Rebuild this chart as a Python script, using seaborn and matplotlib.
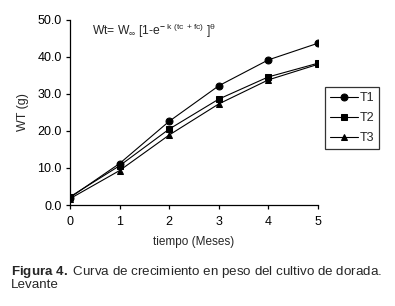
import pandas as pd
import matplotlib.pyplot as plt
import seaborn as sns

months = [0, 1, 2, 3, 4, 5]
t1 = [2.0, 11.2, 22.6, 32.2, 39.2, 43.7]
t2 = [2.2, 10.6, 20.5, 28.6, 34.6, 38.3]
t3 = [1.7, 9.3, 18.9, 27.3, 33.8, 38.0]
series_names = ["T1", "T2", "T3"]
y_ticks = [0, 10, 20, 30, 40, 50]


def main():
    df = pd.DataFrame({
        "mes": months * 3,
        "wt": t1 + t2 + t3,
        "trat": [n for n in series_names for _ in months],
    })

    sns.set_theme(style="ticks")
    plt.rcParams["font.family"] = ["Liberation Sans", "DejaVu Sans"]
    plt.rcParams["mathtext.fontset"] = "custom"
    plt.rcParams["mathtext.rm"] = "Liberation Sans"
    plt.rcParams["mathtext.it"] = "Liberation Sans"
    plt.rcParams["mathtext.bf"] = "Liberation Sans:bold"

    fig = plt.figure(figsize=(3.95, 3.06), dpi=100)
    ax = fig.add_axes([0.177, 0.33, 0.628, 0.605])

    sns.lineplot(data=df, x="mes", y="wt", hue="trat", style="trat",
                 palette=["black"] * 3, markers={"T1": "o", "T2": "s", "T3": "^"},
                 dashes=False, markersize=5, linewidth=0.8,
                 markeredgecolor="black", ax=ax)

    ax.set_xlim(0, 5)
    ax.set_ylim(0, 50)
    ax.set_xticks(months)
    ax.set_yticks(y_ticks)
    ax.set_yticklabels([f"{v:.1f}" for v in y_ticks])
    ax.tick_params(labelsize=9, length=3, width=0.9, pad=3, colors="black")
    ax.tick_params(axis="x", pad=5)
    for s in ["left", "bottom"]:
        ax.spines[s].set_linewidth(0.9)
        ax.spines[s].set_color("black")
    sns.despine(ax=ax)
    ax.set_xlabel("tiempo (Meses)", fontsize=8.5)
    ax.set_ylabel("WT (g)", fontsize=9)
    ax.xaxis.labelpad = 6
    ax.yaxis.labelpad = 6

    # growth model formula
    ax.text(0.09, 0.94, r"Wt= W$_{\infty}$ [1-e$^{\mathbf{-}\ k\ (tc\ +fc)}$ ]$^{\theta}$",
            transform=ax.transAxes, fontsize=8.7, va="center")

    leg = ax.legend(loc="upper left", bbox_to_anchor=(0.823, 0.716),
                    bbox_transform=fig.transFigure, fontsize=9,
                    frameon=True, fancybox=False, handlelength=2.2,
                    handletextpad=0.15, borderpad=0.4, labelspacing=0.65,
                    borderaxespad=0)
    leg.get_frame().set_edgecolor("black")
    leg.get_frame().set_linewidth(0.9)

    fig.text(0.028, 0.111, r"$\mathbf{Figura\ 4.}$ Curva de crecimiento en peso del cultivo de dorada.",
             fontsize=9.6, va="center")
    fig.text(0.028, 0.069, "Levante", fontsize=9.6, va="center")

    fig.savefig("out.png", dpi=100)


if __name__ == "__main__":
    main()
